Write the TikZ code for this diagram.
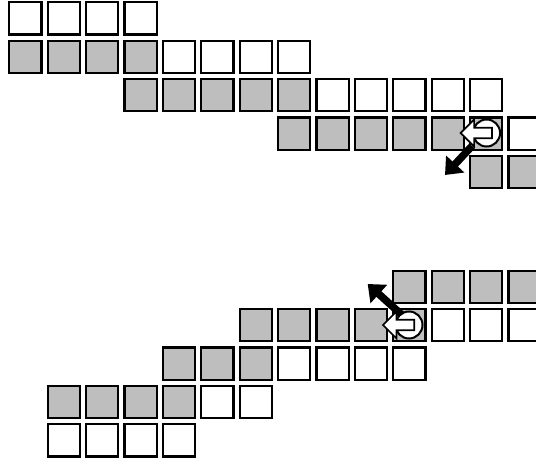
\documentclass[tikz,border=0pt]{standalone}
\usetikzlibrary{arrows.meta}
\definecolor{cellgray}{HTML}{BEBEBE}
\tikzset{
  cell/.style={draw=black,line width=2.2pt,minimum size=32.2pt,inner sep=0pt,outer sep=0pt,shape=rectangle},
  white cell/.style={cell,fill=white},
  gray cell/.style={cell,fill=cellgray},
  turn disc/.style={draw=black,fill=white,line width=2pt},
  turn arrow/.style={draw=black,fill=white,line width=1.7pt,line join=miter},
  push arrow/.style={draw=black,line width=7.5pt,-{Triangle[length=15pt,width=24pt]}}
}
\newcommand{\cellrow}[4]{% style, y, from col, to col
  \foreach \c in {#3,...,#4}{\node[#1] (c#2x\c) at ({25.3+38.4*\c},#2) {};}}
\newcommand{\turnsign}[2]{% centre of disc
  \begin{scope}[shift={(#1,#2)}]
    \filldraw[turn disc] (0,0) circle (13.5);
    \path[turn arrow] (-26,0) -- (-12.5,-13.5) -- (-12.5,-5.2) -- (5.3,-5.2) -- (5.3,5.2) -- (-12.5,5.2) -- (-12.5,13.5) -- cycle;
  \end{scope}}
\begin{document}
\begin{tikzpicture}[x=1pt,y=-1pt]
\clip (0,0) rectangle (536,463);
\fill[white] (0,0) rectangle (536,463);
% upper staircase
\cellrow{white cell}{18.4}{0}{3}
\cellrow{gray cell}{56.8}{0}{3}
\cellrow{white cell}{56.8}{4}{7}
\cellrow{gray cell}{95.2}{3}{7}
\cellrow{white cell}{95.2}{8}{12}
\cellrow{gray cell}{133.6}{7}{12}
\cellrow{white cell}{133.6}{13}{13}
\cellrow{gray cell}{172}{12}{13}
% lower staircase
\cellrow{gray cell}{286.7}{10}{13}
\cellrow{gray cell}{325.1}{6}{10}
\cellrow{white cell}{325.1}{11}{13}
\cellrow{gray cell}{363.5}{4}{6}
\cellrow{white cell}{363.5}{7}{10}
\cellrow{gray cell}{401.9}{1}{4}
\cellrow{white cell}{401.9}{5}{6}
\cellrow{white cell}{440.3}{1}{4}
% black arrows
\coordinate (a1s) at (472,146);
\coordinate (a1e) at (445,175);
\coordinate (a2s) at (402,315);
\coordinate (a2e) at (367.7,284);
\draw[push arrow] (a1s) -- (a1e);
\draw[push arrow] (a2s) -- (a2e);
% turn signs
\turnsign{486.6}{133}
\turnsign{409}{325}
\end{tikzpicture}
\end{document}
